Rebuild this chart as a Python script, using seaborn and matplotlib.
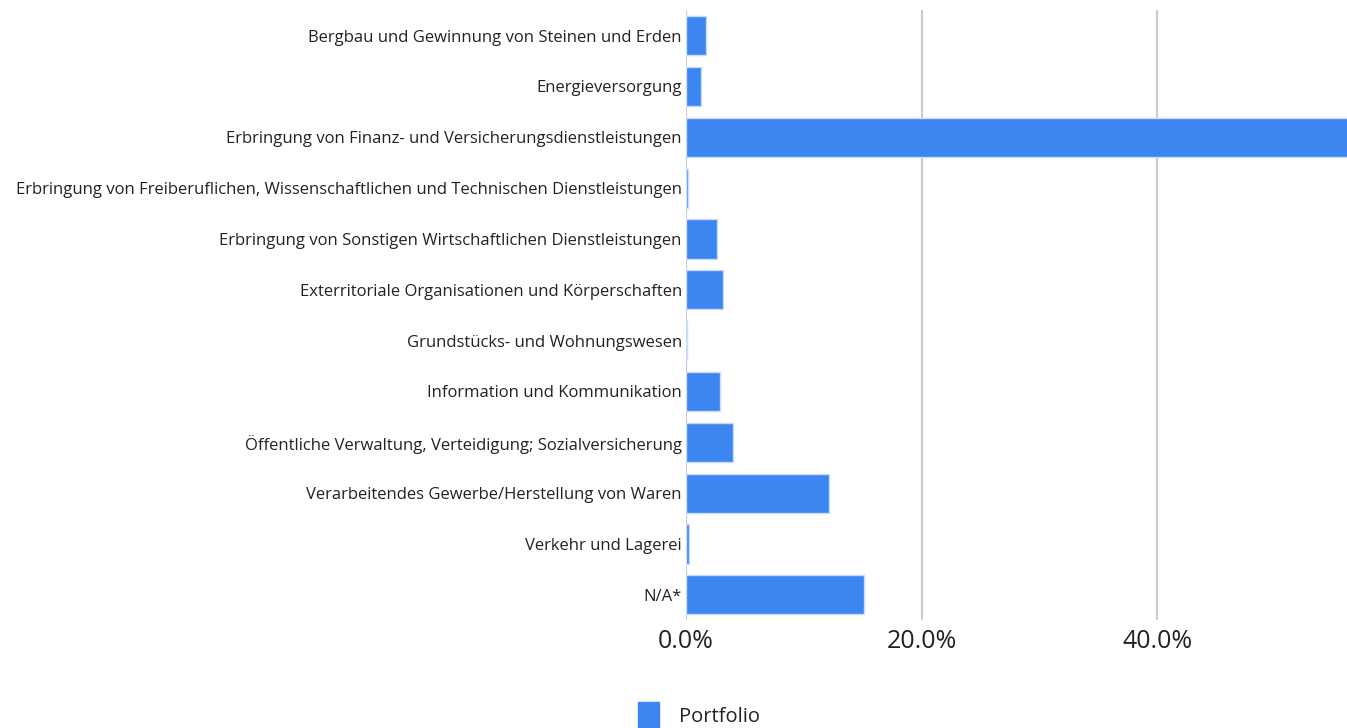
import matplotlib
matplotlib.use("Agg")
import matplotlib.pyplot as plt
import seaborn as sns
import pandas as pd
from matplotlib.patches import Patch
from matplotlib.ticker import FuncFormatter

categories = [
    "Bergbau und Gewinnung von Steinen und Erden",
    "Energieversorgung",
    "Erbringung von Finanz- und Versicherungsdienstleistungen",
    "Erbringung von Freiberuflichen, Wissenschaftlichen und Technischen Dienstleistungen",
    "Erbringung von Sonstigen Wirtschaftlichen Dienstleistungen",
    "Exterritoriale Organisationen und Körperschaften",
    "Grundstücks- und Wohnungswesen",
    "Information und Kommunikation",
    "Öffentliche Verwaltung, Verteidigung; Sozialversicherung",
    "Verarbeitendes Gewerbe/Herstellung von Waren",
    "Verkehr und Lagerei",
    "N/A*",
]
portfolio = [1.7, 1.3, 56.6, 0.15, 2.6, 3.1, 0.08, 2.9, 4.0, 12.1, 0.25, 15.1]
x_ticks = [0, 20, 40]
series_name = "Portfolio"

df = pd.DataFrame({"Branche": categories, "Wert": portfolio})

sns.set_theme(style="white")
plt.rcParams["font.family"] = ["Open Sans", "DejaVu Sans"]

fig = plt.figure(figsize=(13.47, 7.28), dpi=100)
ax = fig.add_axes([0.5093, 0.148, 0.4907, 0.838])

bar_color = "#3d86f2"
sns.barplot(data=df, x="Wert", y="Branche", orient="h", color=bar_color,
            saturation=1, width=0.77, edgecolor="#c9dcfb", linewidth=1,
            ax=ax, zorder=3)

ax.set_xlim(0, 56.1)
ax.set_xticks(x_ticks)
ax.xaxis.set_major_formatter(FuncFormatter(lambda v, p: f"{v:.1f}%"))
ax.grid(axis="x", color="#cccccc", linewidth=1.5, zorder=0)
ax.grid(axis="y", visible=False)
for s in ax.spines.values():
    s.set_visible(False)
ax.set_xlabel("")
ax.set_ylabel("")
ax.tick_params(axis="x", length=0, labelsize=18, labelcolor="#222222", pad=6)
ax.tick_params(axis="y", length=0, labelsize=12, labelcolor="#222222", pad=3)

handles = [Patch(facecolor=bar_color, edgecolor=bar_color, label=series_name)]
fig.legend(handles=handles, loc="lower center", bbox_to_anchor=(0.519, -0.025),
           frameon=False, fontsize=14.5, handlelength=1.0, handleheight=1.6,
           handletextpad=1.0, labelcolor="#222222")

fig.savefig("out.png", dpi=100)
